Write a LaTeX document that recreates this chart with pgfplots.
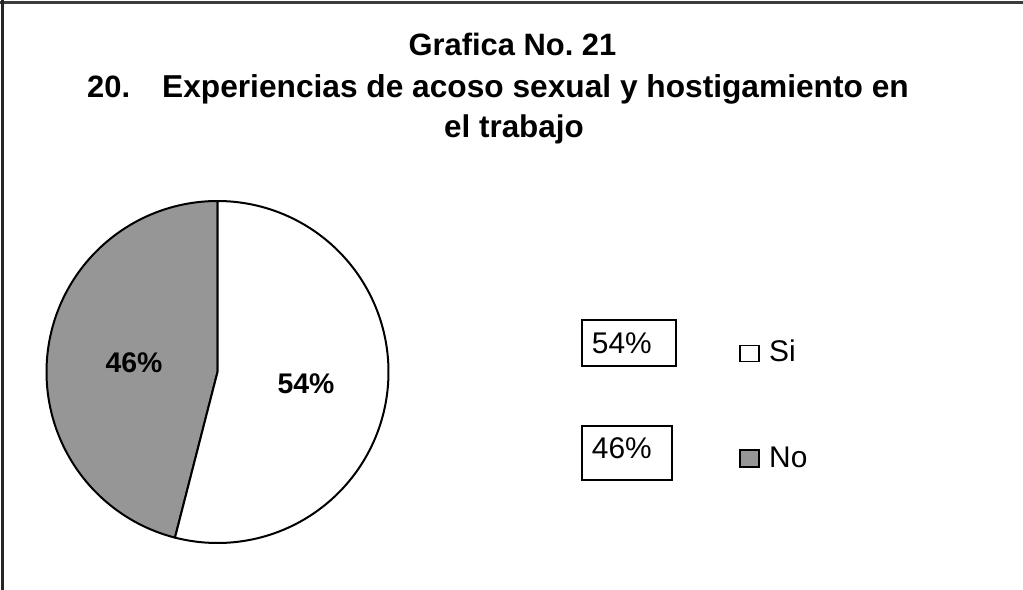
\documentclass[border=0pt]{standalone}
\usepackage{pgfplots}
\pgfplotsset{compat=1.18}
\usepackage{pgfplotstable}
\usepackage{fontspec}
\setmainfont{Liberation Sans}
\definecolor{pieGray}{RGB}{150,150,150}
\definecolor{frameGray}{RGB}{60,60,60}
\pgfplotstableread{
label value
Si 54
No 46
}\piedata
\begin{document}
\frenchspacing
\begin{tikzpicture}
\pgfplotstablegetelem{0}{value}\of\piedata \let\vSi\pgfplotsretval
\pgfplotstablegetelem{1}{value}\of\piedata \let\vNo\pgfplotsretval
\pgfmathsetmacro\aEnd{90-3.6*\vSi}
\pgfmathsetmacro\bEnd{\aEnd-3.6*\vNo}
\begin{axis}[
  x=1bp, y=1bp,
  xmin=0, xmax=1023, ymin=0, ymax=590,
  anchor=origin, at={(0,0)},
  hide axis, clip=false,
]
% pie slices
\addplot[draw=black, fill=pieGray, line width=2bp, line join=round,
  domain=\bEnd:\aEnd, samples=160, variable=\t]
  ({217.5+171*cos(t)},{218+171*sin(t)}) -- (217.5,218) -- cycle;
\addplot[draw=black, fill=white, line width=2bp, line join=round,
  domain=\aEnd:90, samples=180, variable=\t]
  ({217.5+171*cos(t)},{218+171*sin(t)}) -- (217.5,218) -- cycle;
% slice labels
\node[anchor=base, font=\bfseries\fontsize{28.5}{34}\selectfont] at (134,217.3) {46\%};
\node[anchor=base, font=\bfseries\fontsize{28.5}{34}\selectfont] at (306,196.7) {54\%};
% title
\node[anchor=base, font=\bfseries\fontsize{31}{37}\selectfont] at (512.5,534) {Grafica No.\ 21};
\node[anchor=base west, inner sep=0pt, font=\bfseries\fontsize{31}{37}\selectfont] at (87,492) {20.};
\node[anchor=base west, inner sep=0pt, font=\bfseries\fontsize{31.8}{37}\selectfont] at (162,492) {Experiencias de acoso sexual y hostigamiento en};
\node[anchor=base, font=\bfseries\fontsize{31.5}{37}\selectfont] at (514,452) {el trabajo};
% value boxes
\draw[black, line width=1.8bp] (581.7,224.3) rectangle (675.7,270);
\node[anchor=base west, inner sep=0pt, font=\fontsize{30}{36}\selectfont] at (591.7,236.7) {54\%};
\draw[black, line width=1.8bp] (581.7,110) rectangle (671.7,164.3);
\node[anchor=base west, inner sep=0pt, font=\fontsize{30}{36}\selectfont] at (591.7,131.7) {46\%};
% legend
\draw[black, fill=white, line width=1.4bp] (740,228.3) rectangle (759,244.3);
\node[anchor=base west, inner sep=0pt, font=\fontsize{30}{36}\selectfont] at (769,228.3) {Si};
\draw[black, fill=pieGray, line width=1.4bp] (740,123) rectangle (759,140);
\node[anchor=base west, inner sep=0pt, font=\fontsize{30}{36}\selectfont] at (769,123) {No};
% frame (top and left edges visible)
\draw[frameGray, line width=3bp] (0,587.5) -- (1023,587.5);
\draw[black!85, line width=3bp] (2.7,0) -- (2.7,590);
\end{axis}
\pgfresetboundingbox
\path (0,0) rectangle (1023bp,590bp);
\end{tikzpicture}
\end{document}
